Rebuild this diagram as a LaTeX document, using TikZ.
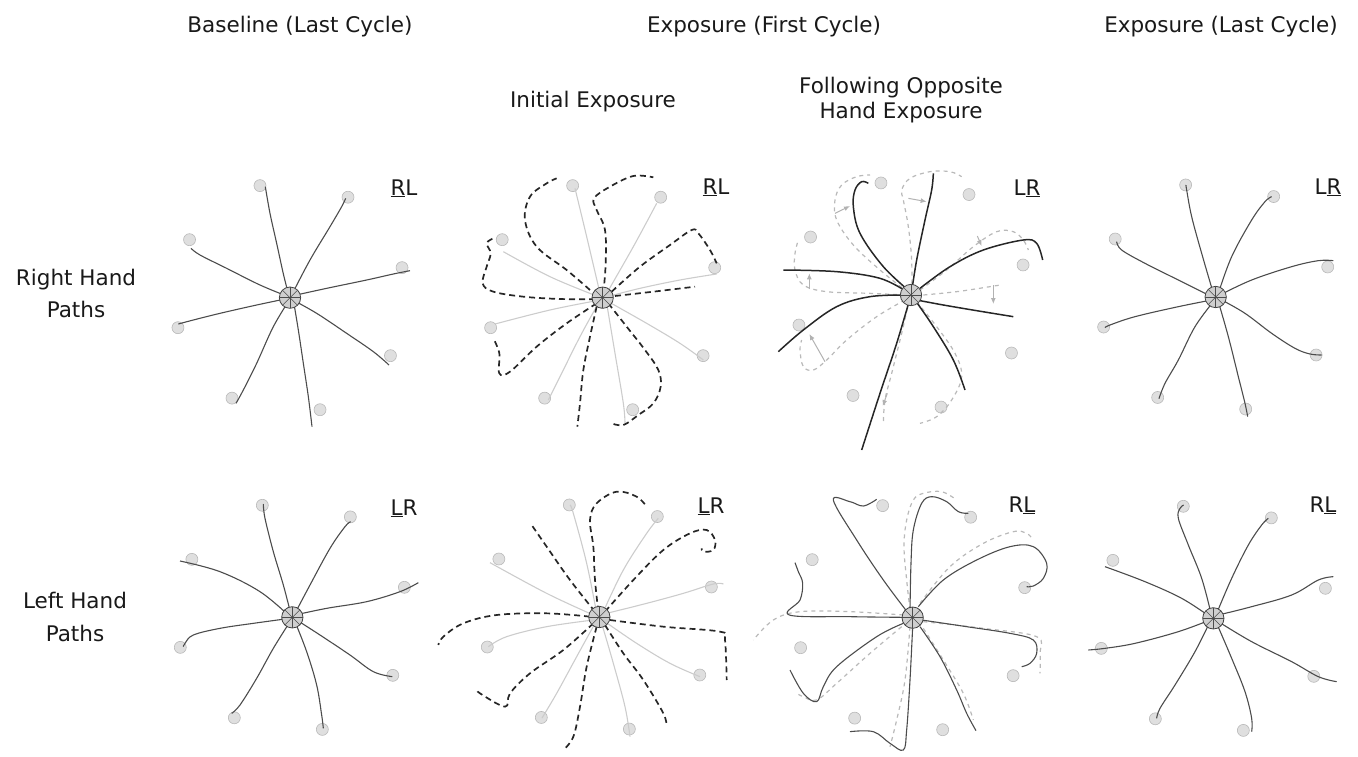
\documentclass[tikz,border=0pt]{standalone}
\usepackage{fontspec}
\setmainfont{DejaVu Sans}
\usetikzlibrary{arrows.meta}
\tikzset{
 tgt/.style={fill=gray!25, draw=gray!55, line width=0.6pt},
 hubc/.style={fill=gray!38, draw=black!75, line width=0.8pt},
 dk/.style={draw=black!70, line width=1.1pt},
 dkb/.style={draw=black!85, line width=1.5pt},
 lt/.style={draw=gray!40, line width=1.1pt},
 dsh/.style={draw=black!85, line width=1.7pt, dash pattern=on 6pt off 4pt},
 gdsh/.style={draw=gray!55, line width=1.2pt, dash pattern=on 4pt off 4pt},
 garr/.style={draw=gray!60, line width=1pt, -{Latex[length=6pt,width=5pt]}},
 sm/.style={smooth, tension=0.6},
 hd/.style={anchor=base, inner sep=0pt, text=black!90, font=\fontsize{21.5}{26}\selectfont},
 lab/.style={anchor=base, inner sep=0pt, text=black!90, font=\fontsize{21.5}{26}\selectfont}
}
\newcommand\tgts[2]{\foreach \a in {15,60,...,330}{\path[tgt] ({#1+348*cos(\a)},{#2-348*sin(\a)}) circle[radius=18];}}
\newcommand\hubat[2]{\path[hubc] (#1,#2) circle[radius=32];
 \foreach \a in {0,45,90,135}{\draw[black!70,line width=0.5pt] ({#1+32*cos(\a)},{#2+32*sin(\a)}) -- ({#1-32*cos(\a)},{#2-32*sin(\a)});}}
\begin{document}
\begin{tikzpicture}[x=1pt,y=-1pt]
\useasboundingbox (0,0) rectangle (1358,756);
% headings
\node[hd] (h1) at (300,32) {Baseline (Last Cycle)};
\node[hd] (h2) at (764,32) {Exposure (First Cycle)};
\node[hd] (h3) at (1221,32) {Exposure (Last Cycle)};
\node[hd] (h4) at (593,107) {Initial Exposure};
\node[hd] (h5a) at (901,93) {Following Opposite};
\node[hd] (h5b) at (901,118) {Hand Exposure};
\node[hd] (r1a) at (76,285) {Right Hand};
\node[hd] (r1b) at (76,317) {Paths};
\node[hd] (r2a) at (75,608) {Left Hand};
\node[hd] (r2b) at (75,641) {Paths};
% panel labels
\node[lab] (l1) at (404,195) {\underline{R}L};
\node[lab] (l2) at (716,194) {\underline{R}L};
\node[lab] (l3) at (1027,195) {L\underline{R}};
\node[lab] (l4) at (1328,194) {L\underline{R}};
\node[lab] (l5) at (404,515) {\underline{L}R};
\node[lab] (l6) at (711,513) {\underline{L}R};
\node[lab] (l7) at (1022,512) {R\underline{L}};
\node[lab] (l8) at (1323,512) {R\underline{L}};

% ===== Panel 1
\begin{scope}[shift={(160,170)},scale=1/3]
\tgts{390}{383}
\draw[dk] plot[sm] coordinates {(388,380) (372,320) (350,220) (330,130) (316,50)};
\draw[dk] plot[sm] coordinates {(395,375) (450,270) (510,170) (545,110) (557,85)};
\draw[dk] plot[sm] coordinates {(385,380) (300,345) (200,295) (120,255) (93,235)};
\draw[dk] plot[sm] coordinates {(395,378) (500,355) (620,330) (700,312) (750,302)};
\draw[dk] plot[sm] coordinates {(385,385) (290,405) (180,430) (100,450) (55,462)};
\draw[dk] plot[sm] coordinates {(395,388) (470,430) (560,490) (640,545) (687,585)};
\draw[dk] plot[sm] coordinates {(388,390) (340,470) (290,580) (250,660) (228,700)};
\draw[dk] plot[sm] coordinates {(400,390) (415,480) (430,580) (445,680) (456,770)};
\hubat{390}{383}
\end{scope}

% ===== Panel 2
\begin{scope}[shift={(440,170)},scale=1/3]
\tgts{488}{383}
\draw[lt] plot[sm] coordinates {(480,370) (440,200) (405,55)};
\draw[lt] plot[sm] coordinates {(500,370) (580,230) (650,100)};
\draw[lt] plot[sm] coordinates {(470,378) (330,320) (190,245)};
\draw[lt] plot[sm] coordinates {(510,378) (600,355) (720,330) (830,312)};
\draw[lt] plot[sm] coordinates {(470,392) (330,420) (165,462)};
\draw[lt] plot[sm] coordinates {(505,395) (620,460) (720,520) (790,570)};
\draw[lt] plot[sm] coordinates {(475,400) (420,500) (360,620) (325,690)};
\draw[lt] plot[sm] coordinates {(500,400) (525,550) (550,700) (555,760)};
\draw[dsh] plot[sm] coordinates {(450,360) (380,300) (290,230) (255,150) (270,80) (320,40) (350,25)};
\draw[dsh] plot[sm] coordinates {(490,370) (497,280) (495,180) (470,120) (462,85) (510,50) (580,18) (640,22)};
\draw[dsh] plot[sm] coordinates {(515,365) (600,290) (690,225) (755,180) (775,190) (810,240) (830,280)};
\draw[dsh] plot[sm] coordinates {(525,378) (640,365) (765,350)};
\draw[dsh] plot[sm] coordinates {(465,388) (360,387) (250,380) (160,365) (128,340) (140,290) (152,250) (140,220) (160,205)};
\draw[dsh] plot[sm] coordinates {(470,400) (380,460) (290,530) (210,605) (178,610) (178,550) (160,505)};
\draw[dsh] plot[sm] coordinates {(470,410) (450,500) (430,600) (420,700) (412,770)};
\draw[dsh] plot[sm] coordinates {(505,400) (560,470) (615,540) (655,600) (662,650) (640,700) (595,735) (550,765) (515,760)};
\hubat{488}{383}
\end{scope}

% ===== Panel 3
\begin{scope}[shift={(770,160)},scale=1/3]
\tgts{423}{405}
\draw[gdsh] plot[sm] coordinates {(415,398) (330,330) (250,255) (200,180) (195,120) (215,75) (260,50) (300,45)};
\draw[gdsh] plot[sm] coordinates {(425,395) (425,300) (415,200) (400,120) (395,90) (420,55) (480,35) (540,35) (575,50)};
\draw[gdsh] plot[sm] coordinates {(450,390) (530,330) (610,260) (680,215) (730,215) (760,240) (775,270)};
\draw[gdsh] plot[sm] coordinates {(460,405) (560,395) (660,380) (690,375)};
\draw[gdsh] plot[sm] coordinates {(405,405) (300,400) (170,395) (100,375) (75,330) (75,280) (85,240)};
\draw[gdsh] plot[sm] coordinates {(405,420) (320,470) (230,540) (170,600) (130,630) (100,620) (90,570) (95,540)};
\draw[gdsh] plot[sm] coordinates {(418,420) (395,520) (365,640) (345,720) (340,790)};
\draw[gdsh] plot[sm] coordinates {(440,425) (500,500) (555,580) (575,650) (545,720) (500,770) (450,790)};
\draw[garr] (195,160) -- (240,138);
\draw[garr] (415,115) -- (470,125);
\draw[garr] (622,228) -- (635,258);
\draw[garr] (670,375) -- (670,432);
\draw[garr] (118,388) -- (118,340);
\draw[garr] (165,605) -- (118,522);
\draw[garr] (352,700) -- (338,738);
\draw[dkb] plot[sm] coordinates {(420,395) (340,320) (270,220) (250,140) (255,90) (275,65) (295,70)};
\draw[dkb] plot[sm] coordinates {(425,395) (440,300) (465,180) (485,90) (490,40)};
\draw[dkb] plot[sm] coordinates {(450,385) (540,320) (640,270) (760,240) (800,250) (818,300)};
\draw[dkb] plot[sm] coordinates {(410,395) (330,355) (200,335) (40,330)};
\draw[dkb] plot[sm] coordinates {(410,405) (300,410) (200,440) (100,510) (25,575)};
\draw[dkb] plot[sm] coordinates {(440,420) (520,435) (620,452) (730,470)};
\draw[dkb] plot[sm] coordinates {(435,420) (490,500) (550,600) (585,690)};
\draw[dkb] plot[sm] coordinates {(420,415) (380,550) (330,700) (275,870)};
\hubat{423}{405}
\end{scope}

% ===== Panel 4
\begin{scope}[shift={(1085,170)},scale=1/3]
\tgts{392}{381}
\draw[dk] plot[sm] coordinates {(385,370) (350,250) (320,140) (305,60) (303,45)};
\draw[dk] plot[sm] coordinates {(400,370) (440,260) (500,150) (540,95) (560,80)};
\draw[dk] plot[sm] coordinates {(380,380) (280,330) (180,280) (110,240) (95,215)};
\draw[dk] plot[sm] coordinates {(405,375) (500,330) (620,290) (700,272) (745,272)};
\draw[dk] plot[sm] coordinates {(380,390) (280,410) (150,440) (75,465) (60,473)};
\draw[dk] plot[sm] coordinates {(410,390) (480,430) (560,490) (630,535) (675,552) (710,555)};
\draw[dk] plot[sm] coordinates {(385,395) (330,470) (280,570) (240,640) (222,686)};
\draw[dk] plot[sm] coordinates {(400,395) (430,500) (460,620) (480,700) (488,740)};
\hubat{392}{381}
\end{scope}

% ===== Panel 5
\begin{scope}[shift={(160,485)},scale=1/3]
\tgts{397}{397}
\draw[dk] plot[sm] coordinates {(392,385) (370,300) (340,200) (315,100) (310,57)};
\draw[dk] plot[sm] coordinates {(405,385) (450,300) (510,190) (555,125) (572,110)};
\draw[dk] plot[sm] coordinates {(60,228) (180,260) (300,320) (390,395)};
\draw[dk] plot[sm] coordinates {(405,390) (500,370) (620,350) (720,320) (775,293)};
\draw[dk] plot[sm] coordinates {(390,400) (280,415) (180,430) (100,450) (75,475) (70,485)};
\draw[dk] plot[sm] coordinates {(410,405) (480,450) (570,510) (640,560) (697,575)};
\draw[dk] plot[sm] coordinates {(390,410) (340,490) (290,580) (240,660) (215,685)};
\draw[dk] plot[sm] coordinates {(405,410) (440,500) (470,600) (485,690) (490,730)};
\hubat{397}{397}
\end{scope}

% ===== Panel 6
\begin{scope}[shift={(430,480)},scale=1/3]
\tgts{508}{411}
\draw[lt] plot[sm] coordinates {(500,400) (470,250) (430,100) (420,75)};
\draw[lt] plot[sm] coordinates {(520,395) (580,270) (650,160) (685,115)};
\draw[lt] plot[sm] coordinates {(490,405) (350,340) (180,248)};
\draw[lt] plot[sm] coordinates {(530,400) (650,370) (760,340) (850,312) (880,312)};
\draw[lt] plot[sm] coordinates {(490,420) (350,440) (230,470) (175,500)};
\draw[lt] plot[sm] coordinates {(525,425) (620,490) (720,550) (810,590)};
\draw[lt] plot[sm] coordinates {(495,430) (440,530) (380,640) (336,714)};
\draw[lt] plot[sm] coordinates {(515,430) (550,550) (585,680) (600,770)};
\draw[dsh] plot[sm] coordinates {(505,395) (495,300) (490,200) (480,120) (500,70) (560,35) (620,50) (650,80)};
\draw[dsh] plot[sm] coordinates {(495,395) (420,300) (350,200) (305,135)};
\draw[dsh] plot[sm] coordinates {(525,395) (610,300) (700,210) (780,160) (830,150) (855,180) (850,210) (820,215) (815,205)};
\draw[dsh] plot[sm] coordinates {(540,420) (700,440) (870,455) (885,480) (890,600)};
\draw[dsh] plot[sm] coordinates {(480,410) (350,400) (200,405) (100,430) (40,470) (25,495)};
\draw[dsh] plot[sm] coordinates {(490,430) (400,510) (300,580) (240,640) (225,680) (150,640) (140,628)};
\draw[dsh] plot[sm] coordinates {(500,440) (470,560) (450,680) (430,770) (400,810)};
\draw[dsh] plot[sm] coordinates {(525,435) (580,520) (640,600) (700,700) (710,740)};
\hubat{508}{411}
\end{scope}

% ===== Panel 7
\begin{scope}[shift={(750,480)},scale=1/3]
\tgts{488}{413}
\draw[gdsh] plot[sm] coordinates {(480,390) (470,300) (462,200) (470,120) (490,60) (520,40) (575,35) (620,60)};
\draw[gdsh] plot[sm] coordinates {(510,370) (600,260) (700,190) (790,155) (830,160) (850,180)};
\draw[gdsh] plot[sm] coordinates {(460,405) (300,395) (150,395) (70,420) (10,480)};
\draw[gdsh] plot[sm] coordinates {(520,425) (700,445) (860,470) (870,520) (870,580)};
\draw[gdsh] plot[sm] coordinates {(455,440) (360,520) (260,610) (200,660) (160,650) (140,640)};
\draw[gdsh] plot[sm] coordinates {(480,440) (465,600) (440,720) (420,800)};
\draw[gdsh] plot[sm] coordinates {(520,445) (580,540) (640,640) (670,720)};
\draw[dk] plot[sm] coordinates {(475,400) (400,300) (320,180) (250,60) (300,65) (340,78) (380,58)};
\draw[dk] plot[sm] coordinates {(480,395) (483,250) (490,150) (515,70) (545,50) (590,65) (625,95) (655,100)};
\draw[dk] plot[sm] coordinates {(505,380) (580,300) (680,240) (780,200) (850,200) (890,250) (880,295) (850,318) (830,320)};
\draw[dk] plot[sm] coordinates {(465,412) (300,410) (118,405) (150,360) (158,310) (145,275) (135,248)};
\draw[dk] plot[sm] coordinates {(515,420) (650,440) (780,460) (850,480) (860,520) (840,550) (815,560)};
\draw[dk] plot[sm] coordinates {(460,430) (380,470) (260,560) (220,620) (200,665) (160,640) (120,570)};
\draw[dk] plot[sm] coordinates {(488,440) (480,600) (470,750) (460,810) (420,790) (370,755) (300,755)};
\draw[dk] plot[sm] coordinates {(510,440) (570,530) (620,630) (650,700) (678,752)};
\hubat{488}{413}
\end{scope}

% ===== Panel 8
\begin{scope}[shift={(1085,485)},scale=1/3]
\tgts{385}{400}
\draw[dk] plot[sm] coordinates {(378,385) (350,280) (310,180) (280,100) (285,70) (296,60)};
\draw[dk] plot[sm] coordinates {(395,385) (440,280) (490,180) (530,120) (550,100)};
\draw[dk] plot[sm] coordinates {(60,245) (180,290) (290,340) (375,395)};
\draw[dk] plot[sm] coordinates {(400,390) (500,365) (620,330) (700,285) (745,275)};
\draw[dk] plot[sm] coordinates {(375,405) (280,440) (150,475) (60,490) (10,495)};
\draw[dk] plot[sm] coordinates {(400,410) (500,470) (620,530) (700,575) (755,590)};
\draw[dk] plot[sm] coordinates {(375,410) (330,500) (270,600) (225,670) (215,700)};
\draw[dk] plot[sm] coordinates {(395,415) (440,520) (480,620) (500,700) (500,740)};
\hubat{385}{400}
\end{scope}
\end{tikzpicture}
\end{document}
